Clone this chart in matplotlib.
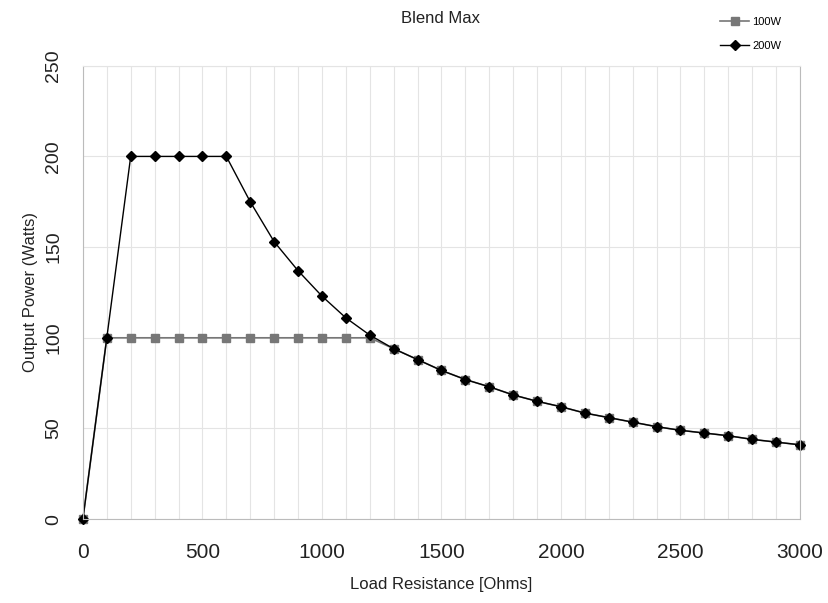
import matplotlib.pyplot as plt
from matplotlib.ticker import MultipleLocator

plt.rcParams['font.family'] = ['Liberation Sans', 'DejaVu Sans']

load = [0, 100, 200, 300, 400, 500, 600, 700, 800, 900, 1000, 1100, 1200,
        1300, 1400, 1500, 1600, 1700, 1800, 1900, 2000, 2100, 2200, 2300,
        2400, 2500, 2600, 2700, 2800, 2900, 3000]
tail = [94, 88, 82, 77, 73, 68.5, 65, 62, 58.5, 56, 53.5, 51, 49, 47.5,
        46, 44, 42.5, 41]
p100 = [0, 100, 100, 100, 100, 100, 100, 100, 100, 100, 100, 100, 100] + tail
p200 = [0, 100, 200, 200, 200, 200, 200, 175, 153, 137, 123, 111, 101.5] + tail

fig = plt.figure(figsize=(8.29, 6.03), dpi=100)
ax = fig.add_axes([0.100, 0.139, 0.865, 0.752])

ax.plot(load, p100, color='#777777', lw=1.2, marker='s', ms=6,
        mfc='#777777', mec='#777777', label='100W', clip_on=False)
ax.plot(load, p200, color='black', lw=1.0, marker='D', ms=5,
        mfc='black', mec='black', label='200W', clip_on=False)

ax.set_xlim(0, 3000)
ax.set_ylim(0, 250)
ax.xaxis.set_major_locator(MultipleLocator(500))
ax.xaxis.set_minor_locator(MultipleLocator(100))
ax.yaxis.set_major_locator(MultipleLocator(50))
ax.grid(which='both', axis='x', color='#e4e4e4', lw=0.8)
ax.grid(which='major', axis='y', color='#e4e4e4', lw=0.8)
ax.set_axisbelow(True)

ax.spines['top'].set_color('#e4e4e4')
for side in ['left', 'bottom', 'right']:
    ax.spines[side].set_color('#bbbbbb')

ax.tick_params(which='both', length=0, colors='#222222')
ax.tick_params(axis='x', labelsize=15, pad=17)
ax.tick_params(axis='y', labelsize=14, pad=15)
plt.setp(ax.get_yticklabels(), rotation=90, va='center')

ax.set_xlabel('Load Resistance [Ohms]', fontsize=12, color='#222222', labelpad=11)
ax.set_ylabel('Output Power (Watts)', fontsize=12, color='#222222', labelpad=5)
fig.text(0.531, 0.97, 'Blend Max', ha='center', va='center', fontsize=12,
         color='#222222')

ax.legend(loc='upper left', bbox_to_anchor=(0.875, 1.13), frameon=False,
          fontsize=8, handlelength=2.6, labelspacing=1.3, handletextpad=0.3)

fig.savefig('out.png')
